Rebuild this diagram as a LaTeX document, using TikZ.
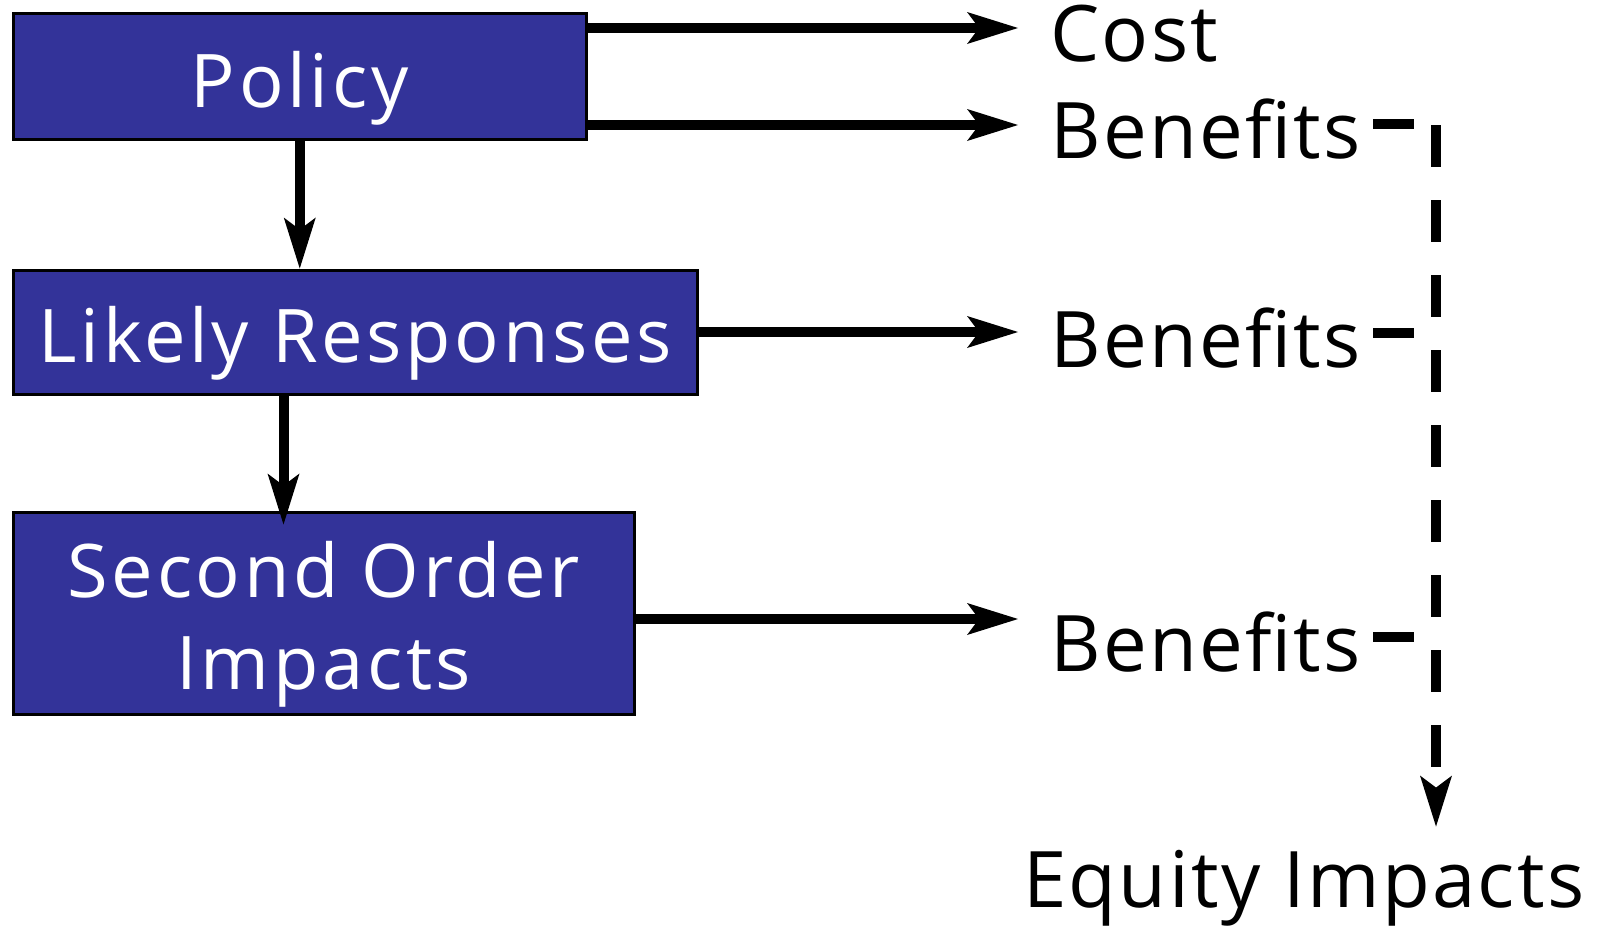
\documentclass[tikz,border=0pt]{standalone}
\usepackage{fontspec}
\setmainfont{Open Sans}[LetterSpace=3]
\newfontfamily\blockfont{Open Sans}[LetterSpace=5]
\usetikzlibrary{arrows.meta}
\definecolor{my_blue}{RGB}{51, 51, 153}
\tikzset {
  block/.style = {draw, line width=3pt, fill=my_blue, text=white, rectangle, anchor=north west, align=center, font=\blockfont\fontsize{74}{92}\selectfont, text height=61pt, text depth=0pt},
  word/.style = {inner sep=0pt, anchor=base west, font=\fontsize{78}{94}\selectfont},
  headed/.style = {-{Stealth[length=51pt, width=32pt, inset=12pt, line width=0pt]}},
  line/.style = {headed, line width=10pt, color=black},
  feed/.style = {line, shorten >=32pt},
  stub/.style = {line width=10pt, shorten <=12pt, shorten >=22pt},
  dashline/.style = {headed, line width=10pt, dash pattern=on 42pt off 33pt, shorten >=23pt}
}

\begin{document}
\begin{tikzpicture}[x=1pt, y=-1pt]
    \useasboundingbox (0,0) rectangle (1601,926);

    \node[block, minimum width=572.5pt, minimum height=126pt, name=policy] (policy) at (12,12) {Policy};
    \node[block, minimum width=683.5pt, minimum height=124pt, name=likely] (likely) at (12,268.5) {Likely Responses};
    % two lines: the baseline sits on the last one
    \node[block, minimum width=620.5pt, minimum height=202pt, text height=153pt, name=second] (second) at (12,510.5) {Second Order\\Impacts};

    \node[word] (cost) at (1050,61) {Cost};
    \node[word] (ben1) at (1050,158) {Benefits};
    \node[word] (ben2) at (1050,367) {Benefits};
    \node[word] (ben3) at (1050,671) {Benefits};
    \node[word] (equity) at (1023,907) {Equity Impacts};

    \coordinate (bus) at (1436,125);

    % down the chain
    \draw[line] (policy.south) -- (policy.south |- likely.north);
    \draw[line, shorten >=-14pt] ([xshift=271.5pt]likely.south west) -- ([xshift=271.5pt]likely.south west |- second.north);

    % out to the right
    \draw[feed] ([yshift=-16pt]policy.north east) -- ([yshift=-16pt]policy.north east -| cost.west);
    \draw[feed] ([yshift=16pt]policy.south east) -- ([yshift=16pt]policy.south east -| ben1.west);
    \draw[feed] (likely.east) -- (likely.east -| ben2.west);
    \draw[feed] ([yshift=-6pt]second.east) -- ([yshift=-6pt]second.east -| ben3.west);

    % benefits gathered into the equity column
    \draw[stub] ([yshift=34pt]ben1.base east) -- ([yshift=34pt]ben1.base east -| bus);
    \draw[stub] ([yshift=34pt]ben2.base east) -- ([yshift=34pt]ben2.base east -| bus);
    \draw[stub] ([yshift=34pt]ben3.base east) -- ([yshift=34pt]ben3.base east -| bus);
    \draw[dashline] (bus) -- (bus |- equity.north);

\end{tikzpicture}
\end{document}
